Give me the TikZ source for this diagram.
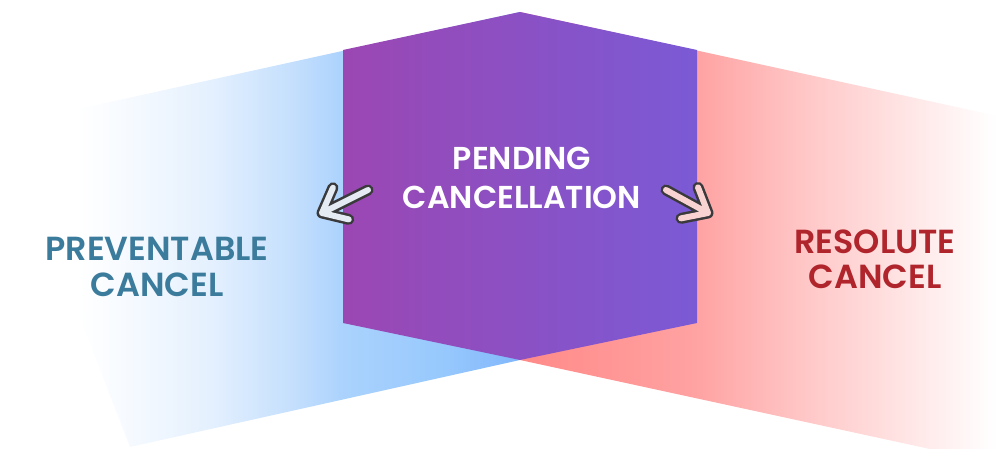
\documentclass[tikz,border=0pt]{standalone}
\usepackage{fontspec}
\setmainfont{Poppins SemiBold}
\usetikzlibrary{calc}
\definecolor{ink}{RGB}{58,58,60}
\definecolor{plum}{RGB}{155,71,179}
\definecolor{iris}{RGB}{123,90,213}
\definecolor{skytext}{RGB}{59,123,156}
\definecolor{rosetext}{RGB}{176,36,44}
\definecolor{sky0}{RGB}{246,250,255}
\definecolor{skyA}{RGB}{228,240,254}
\definecolor{skyB}{RGB}{196,223,253}
\definecolor{skyC}{RGB}{170,210,253}
\definecolor{skyD}{RGB}{150,200,253}
\definecolor{skyE}{RGB}{128,182,251}
\definecolor{roseA}{RGB}{255,138,136}
\definecolor{roseB}{RGB}{255,162,162}
\definecolor{roseC}{RGB}{255,198,198}
\definecolor{roseD}{RGB}{255,227,227}
\definecolor{roseE}{RGB}{255,250,250}
\definecolor{paleblue}{RGB}{228,235,243}
\definecolor{palerose}{RGB}{249,210,210}
\pgfdeclarehorizontalshading{skyfade}{100bp}{color(0bp)=(white); color(32bp)=(white);
  color(37bp)=(sky0); color(45bp)=(skyA); color(53bp)=(skyB); color(58bp)=(skyC);
  color(68bp)=(skyD); color(75bp)=(skyE); color(100bp)=(skyE)}
\pgfdeclarehorizontalshading{rosefade}{100bp}{color(0bp)=(roseA); color(25bp)=(roseA);
  color(43bp)=(roseB); color(54bp)=(roseC); color(64bp)=(roseD); color(72bp)=(roseE);
  color(74bp)=(white); color(100bp)=(white)}

\begin{document}
\begin{tikzpicture}[
  hexa/.style={left color=plum,right color=iris,draw=none},
  tag/.style={align=center,inner sep=0pt,font=\fontsize{19}{20}\selectfont},
  centretag/.style={tag,text=white,font=\fontsize{18}{22.5}\selectfont}
]
\newcommand{\pointer}[3]{\foreach \lw/\col in {0.22/ink,0.12/#1}
  \draw[line width=\lw cm,color=\col,line cap=round,line join=round]
    ($(#3)!0.55cm!40:(#2)$) -- (#3) -- ($(#3)!0.55cm!-40:(#2)$) (#3) -- (#2);}
\useasboundingbox (0,0) rectangle (20.14,8.98);
% ================= side bands =================
\shade[shading=skyfade] (0.10,6.48) -- (10.40,8.74) -- (10.40,1.78) -- (2.60,0.04) -- cycle;
\shade[shading=rosefade] (10.40,8.74) -- (20.14,6.62) -- (20.14,0.00) -- (18.60,0.00) -- (10.40,1.78) -- cycle;
% ================= centre hexagon =================
\shade[hexa] (6.86,7.98) -- (10.40,8.74) -- (13.94,7.98) -- (13.94,2.52) -- (10.40,1.78) -- (6.86,2.52) -- cycle;
\node[centretag] (pending) at (10.44,5.42) {PENDING\\CANCELLATION};
\node[tag,text=skytext] (preventable) at (3.14,3.64) {PREVENTABLE\\CANCEL};
\node[tag,text=rosetext] (resolute) at (17.50,3.80) {RESOLUTE\\CANCEL};
% ================= pointers =================
\coordinate (lfrom) at (7.36,5.18);
\coordinate (lto) at (6.44,4.72);
\coordinate (rfrom) at (13.32,5.18);
\coordinate (rto) at (14.16,4.72);
\pointer{paleblue}{lfrom}{lto}
\pointer{palerose}{rfrom}{rto}
\end{tikzpicture}
\end{document}
